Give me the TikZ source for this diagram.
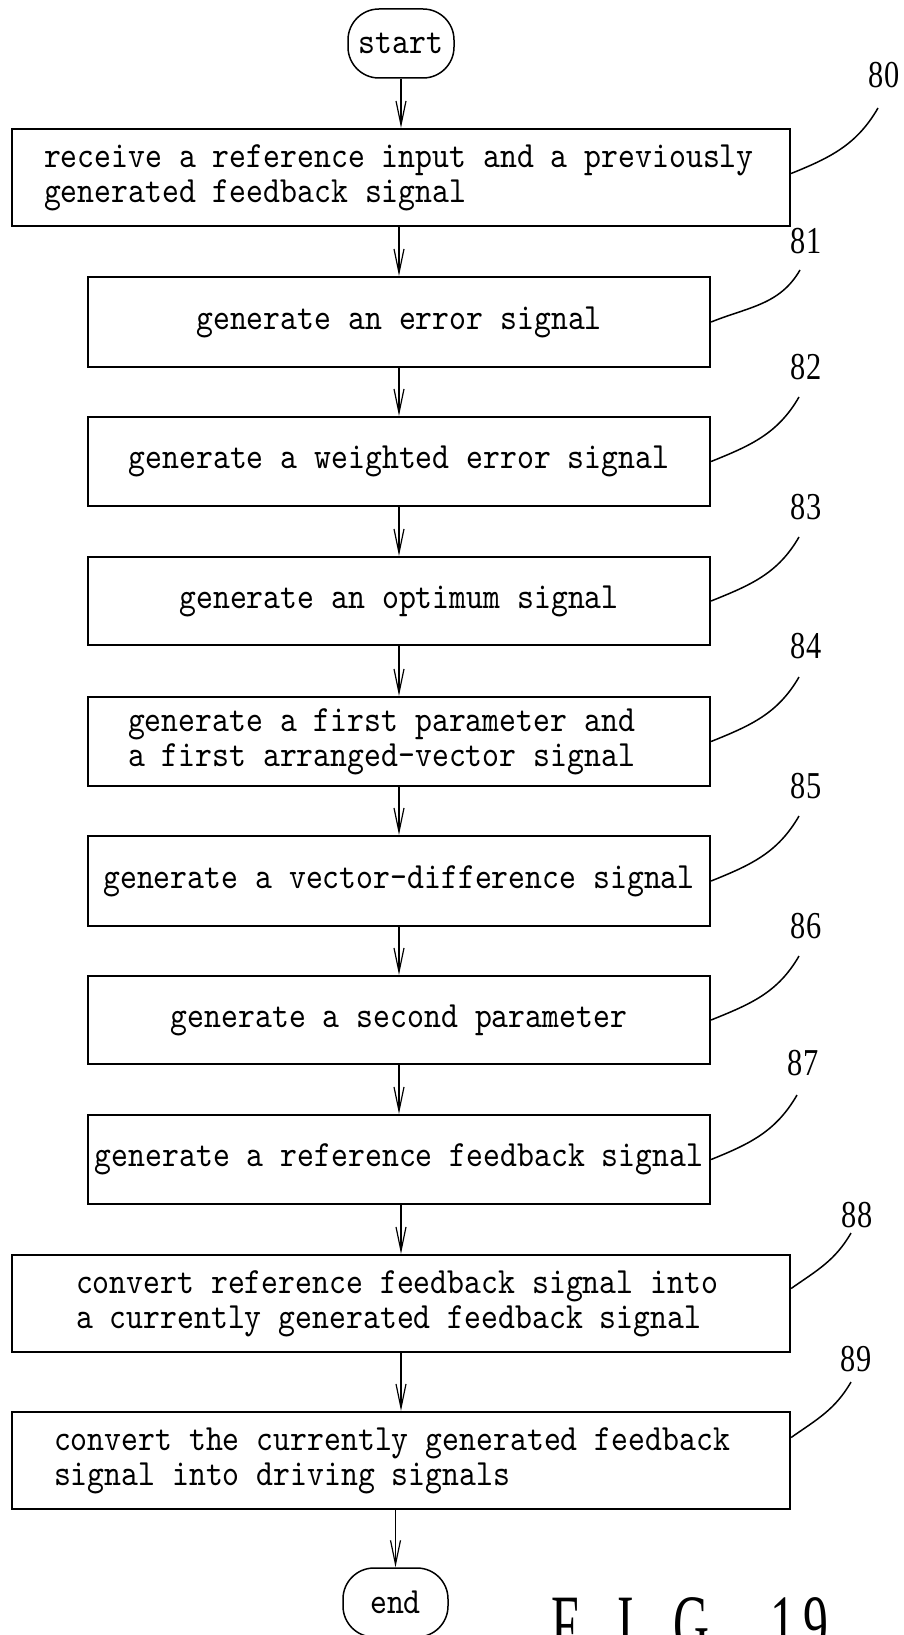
\documentclass[tikz,border=0pt]{standalone}
\usepackage{fontspec}
\setmainfont[FakeStretch=0.87]{lmmono10-regular.otf}
\newfontfamily\numfont[FakeStretch=0.8]{Liberation Serif}
\newfontfamily\figfont[FakeStretch=0.6]{Liberation Serif}
\usetikzlibrary{arrows.meta}

\begin{document}
\begin{tikzpicture}[x=1pt,y=1pt,>={Straight Barb[length=24pt,width=10pt]},
    every node/.style={font=\fontsize{37}{35}\selectfont},
    box/.style={draw,line width=2.2pt,inner sep=0pt,
      execute at begin node={\spaceskip 0pt\relax}},
    term/.style={draw,line width=1.5pt,rounded corners=31pt,
      minimum width=106,minimum height=69,inner sep=0pt},
    wide/.style={box,minimum width=778,minimum height=97,align=left},
    mid/.style={box,minimum width=622,align=center},
    flow/.style={->,line width=1.2pt},
    lead/.style={line width=1.5pt},
    num/.style={font=\numfont\fontsize{38}{38}\selectfont,inner sep=0pt}]
  \fill[white] (0,0) rectangle (903,-1635);
  \useasboundingbox (0,0) rectangle (903,-1635);

  % flow chart
  \node[term] (start) at (401,-43.5) {start};
  \node[wide,text width=714,inner xsep=32] (b80) at (401,-177.5)
    {receive a reference input and a previously\\generated feedback signal};
  \node[mid,minimum height=90] (b81) at (399,-322) {generate an error signal};
  \node[mid,minimum height=89] (b82) at (399,-461.5) {generate a weighted error signal};
  \node[mid,minimum height=88] (b83) at (399,-601) {generate an optimum signal};
  \node[box,minimum width=622,minimum height=89,align=left,
    text width=542,inner xsep=40] (b84) at (399,-741.5)
    {generate a first parameter and\\a first arranged-vector signal};
  \node[mid,minimum height=90] (b85) at (399,-881) {generate a vector-difference signal};
  \node[mid,minimum height=88] (b86) at (399,-1020) {generate a second parameter};
  \node[mid,minimum height=89] (b87) at (399,-1159.5) {generate a reference feedback signal};
  \node[wide,text width=650,inner xsep=64] (b88) at (401,-1303.5)
    {convert reference feedback signal into\\a currently generated feedback signal};
  \node[wide,text width=694,inner xsep=42] (b89) at (401,-1460.5)
    {convert the currently generated feedback\\signal into driving signals};
  \node[term,minimum width=105] (end) at (395.5,-1602.5) {end};

  \draw[flow] (start) -- (b80);
  \foreach \a/\b in {b80/b81,b81/b82,b82/b83,b83/b84,b84/b85,
                     b85/b86,b86/b87,b87/b88,b88/b89}
    \draw[flow] (\a.south -| \b) -- (\b.north);
  \draw[flow] (b89.south -| end) -- (end.north);

  % reference numerals
  \foreach \b/\n/\lx/\ly/\cx/\cy/\s/\o in {
      b80/80/884/-75/878/-108/4/22,
      b81/81/806/-241/800/-270/0/22,
      b82/82/806/-367/799/-397/0/22,
      b83/83/806/-507/799/-537/0/22,
      b84/84/806/-646/799/-677/0/22,
      b85/85/806/-786/799/-816/0/22,
      b86/86/806/-926/799/-956/0/22,
      b87/87/803/-1063/797/-1095/0/22,
      b88/88/857/-1215/851/-1233/15/35,
      b89/89/856/-1359/851/-1382/23/35} {
    \node[num] (l\n) at (\lx,\ly) {\n};
    \coordinate (c\n) at (\cx,\cy);
    \draw[lead] ([yshift=\s]\b.east) to[out=\o,in=240] (c\n);
  }

  \node[font=\figfont\fontsize{83}{83}\selectfont,inner sep=0pt,anchor=north west]
    (fig) at (551,-1597) {F\hspace{39pt}I\hspace{39pt}G.\hspace{49pt}1\hspace{8pt}9};
\end{tikzpicture}
\end{document}
